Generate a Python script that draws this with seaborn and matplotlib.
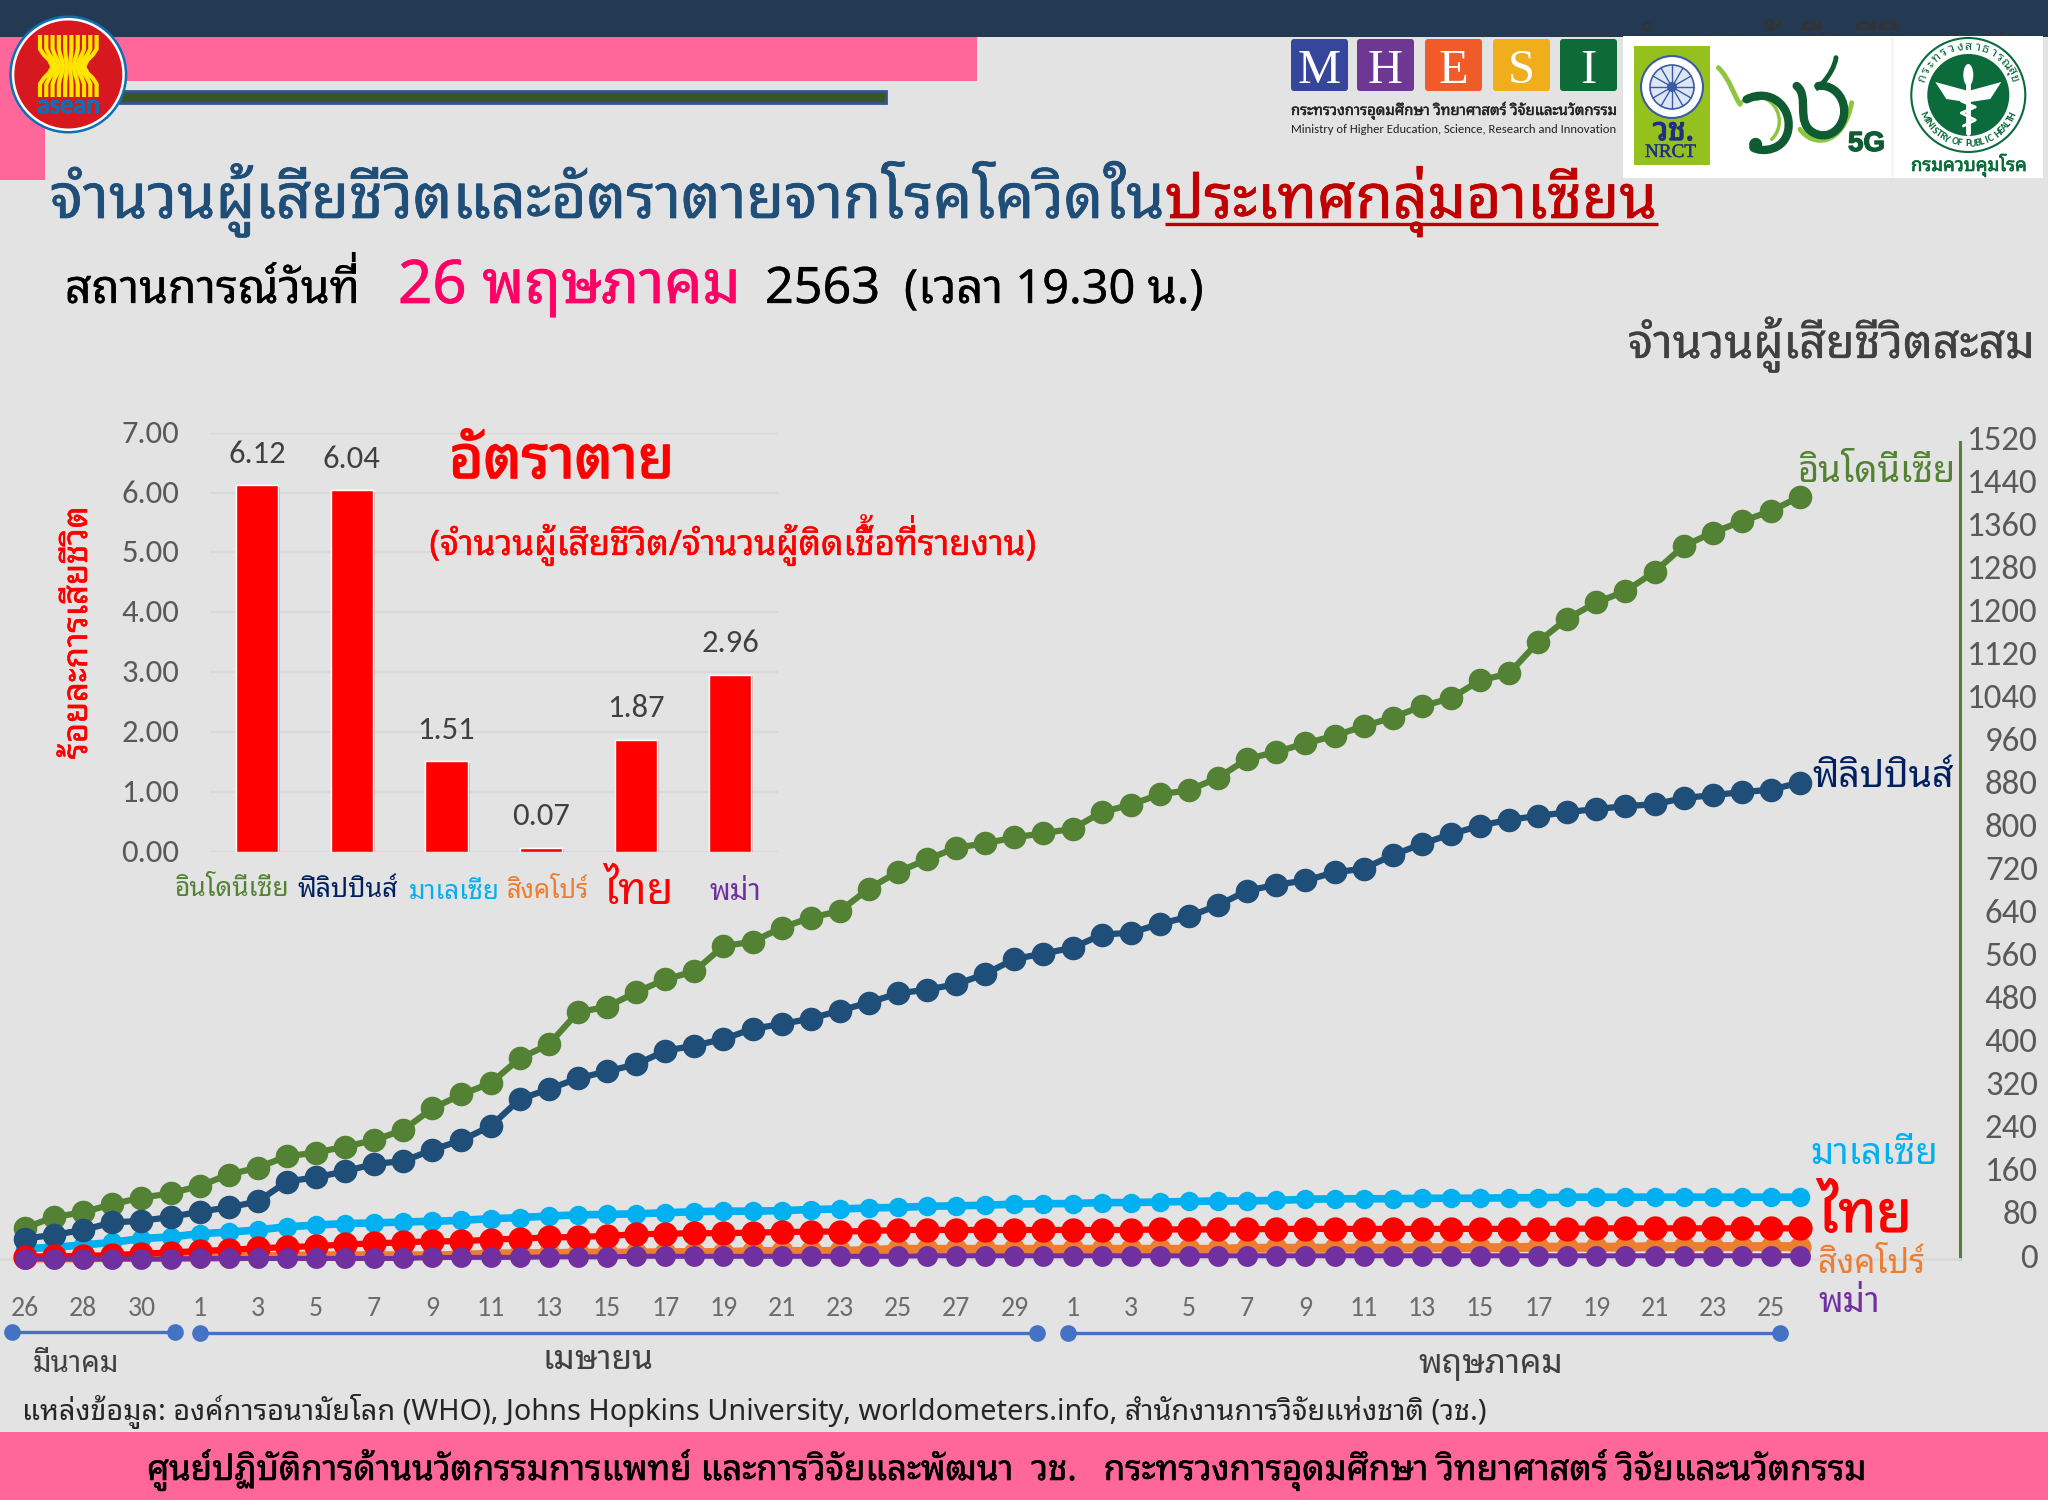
import matplotlib
matplotlib.use('Agg')
import matplotlib.pyplot as plt
import matplotlib.patheffects as pe
from matplotlib.patches import Rectangle, Circle, PathPatch, FancyBboxPatch, Polygon, Ellipse
from matplotlib.path import Path
from matplotlib.transforms import ScaledTranslation
import numpy as np
import seaborn as sns

# ---------------- data ----------------
day_labels = ['26','','28','','30','',
              '1','','3','','5','','7','','9','','11','','13','','15','','17','','19','','21','','23','','25','','27','','29','',
              '1','','3','','5','','7','','9','','11','','13','','15','','17','','19','','21','','23','','25','']
indonesia = [58,78,87,102,114,122,136,157,170,191,198,209,221,240,280,306,327,373,399,459,469,496,520,535,582,590,616,635,647,689,720,
             743,765,773,784,792,800,831,845,864,872,895,930,943,959,973,991,1007,1028,1043,1076,1089,1148,1191,1221,1242,1278,1326,1351,1372,1391,1418]
philippines = [38,45,54,68,71,78,88,96,107,144,152,163,177,182,203,221,247,297,316,336,349,362,387,397,409,428,437,447,462,477,494,
               501,511,530,558,568,579,603,607,623,637,658,685,696,704,719,726,751,772,790,806,817,824,831,837,842,846,857,863,868,873,886]
malaysia = [19,22,26,31,38,41,47,50,54,60,63,66,67,69,70,72,75,77,80,82,83,84,86,88,89,89,90,92,93,95,96,
            98,99,100,102,103,103,105,105,106,107,108,108,109,111,112,112,112,113,113,113,114,114,115,115,115,115,115,115,115,115,115]
thailand = [4,5,6,7,10,12,15,17,20,22,24,27,29,31,33,33,36,38,40,41,43,46,47,48,48,49,50,51,51,52,54,
            54,54,54,54,54,54,54,54,55,55,55,55,56,56,56,56,56,56,56,56,56,56,56,57,57,57,57,57,57,57,57]
singapore = [2,2,2,3,3,3,3,4,5,5,6,6,6,6,6,7,9,10,10,11,11,11,12,12,12,14,14,14,14,16,18,
             18,18,18,18,18,18,18,18,18,18,18,20,20,20,20,20,20,21,21,21,21,22,22,22,22,23,23,23,23,23,23]
myanmar = [0,0,0,0,0,0,1,1,1,1,1,1,1,1,3,3,3,3,4,4,4,5,5,5,5,5,5,5,5,5,5,
           6,6,6,6,6,6,6,6,6,6,6,6,6,6,6,6,6,6,6,6,6,6,6,6,6,6,6,6,6,6,6]
right_ticks = list(range(0, 1521, 80))

countries = ['อินโดนีเซีย','ฟิลิปปินส์','มาเลเซีย','สิงคโปร์','ไทย','พม่า']
death_rates = [6.12,6.04,1.51,0.07,1.87,2.96]
rate_ticks = [0,1,2,3,4,5,6,7]

C_GREEN='#548235'; C_BLUE='#1F4E79'; C_NAVY='#002060'; C_CYAN='#00B0F0'; C_RED='#FF0000'
C_ORANGE='#ED7D31'; C_PURPLE='#7030A0'; C_PINK='#FF6699'; BG='#E3E3E3'; C_TICK='#595959'

sns.set_theme(style='white', rc={'axes.facecolor':'none','figure.facecolor':BG})
FONT = ['Carlito','Noto Sans Thai Looped','DejaVu Sans']
THAI = ['Noto Sans Thai Looped','Carlito','DejaVu Sans']
plt.rcParams['font.family'] = FONT
plt.rcParams['axes.unicode_minus'] = False

W,H = 2048,1500
fig = plt.figure(figsize=(W/100,H/100),dpi=100,facecolor=BG)
def rect_px(x0,y0,x1,y1):
    return [x0/W, 1-y1/H, (x1-x0)/W, (y1-y0)/H]

bg = fig.add_axes([0,0,1,1],zorder=0); bg.set_xlim(0,W); bg.set_ylim(H,0); bg.axis('off')
fg = fig.add_axes([0,0,1,1],zorder=20); fg.set_xlim(0,W); fg.set_ylim(H,0); fg.axis('off'); fg.patch.set_alpha(0)
renderer = fig.canvas.get_renderer()

def put(ax,s,x0,x1,base,color,bold=0,family=THAI,**kw):
    t = ax.text(x0,base,s,color=color,fontsize=20,family=family,ha='left',va='baseline',**kw)
    w = t.get_window_extent(renderer).width
    t.set_fontsize(20*(x1-x0)/w)
    if bold:
        t.set_path_effects([pe.withStroke(linewidth=bold,foreground=color)])
    return t

def width_of(s,fs):
    m = fg.text(0,0,s,fontsize=fs,family=THAI)
    w = m.get_window_extent(renderer).width
    m.remove()
    return w

def raise_mark(t,prefix,mark,lift=0.27):
    """matplotlib has no Thai shaping: lift a tone mark that sits on an upper vowel."""
    fs = t.get_fontsize()
    x0,base = t.get_position()
    space = width_of('ก ก',fs)-width_of('กก',fs)
    fg.text(x0+width_of(prefix,fs)-space,base-lift*fs*100/72,' '+mark,color=t.get_color(),fontsize=fs,family=THAI,ha='left',va='baseline')

# ---------------- background blocks ----------------
bg.add_patch(Rectangle((0,37),977,44,color=C_PINK,lw=0))
bg.add_patch(Rectangle((0,37),45,143,color=C_PINK,lw=0))
bg.add_patch(Rectangle((0,0),W,37,color='#243A52',lw=0))
put(bg,'จำนวนผู้เสียชีวิตสะสม',1628,2035,61,'#333333',zorder=2)
bg.add_patch(Rectangle((120,90.5),766,12,facecolor='#375623',edgecolor='#2F5597',lw=2))
bg.add_patch(Rectangle((0,1432),W,68,color=C_PINK,lw=0))
bg.add_patch(Rectangle((1623,36),420,141.5,color='white',lw=0,zorder=3))
bg.plot([1892,1892],[37,177],color='#EFEFEF',lw=1,zorder=4)

# ---------------- main line chart ----------------
x_per = 29.1
ax = fig.add_axes(rect_px(0,441.7,1960,1259),zorder=5)
ax.patch.set_alpha(0)
days = np.arange(len(indonesia))
styles = [(malaysia,C_CYAN,14,5.5),(indonesia,C_GREEN,17,4.5),(philippines,C_BLUE,17,4.5),
          (singapore,C_ORANGE,16,6.5),(thailand,C_RED,17.5,4.5),(myanmar,C_PURPLE,15,3.6)]
for vals,c,ms,lw in styles:
    sns.lineplot(x=days,y=vals,color=c,marker='o',markersize=ms,linewidth=lw,markeredgewidth=0,ax=ax,errorbar=None)
for ln in ax.lines:
    ln.set_clip_on(False)
    ln.set_zorder(3)
ax.set_xlim(-25/x_per,(1960-25)/x_per)
ax.set_ylim(0,1520)
ax.yaxis.tick_right()
ax.set_yticks(right_ticks)
ax.set_yticklabels([str(v) for v in right_ticks],ha='right',fontsize=25,color=C_TICK)
ax.tick_params(axis='y',length=0,pad=56)
up = ScaledTranslation(0,0.035,fig.dpi_scale_trans)
for lab in ax.get_yticklabels():
    lab.set_transform(lab.get_transform()+up)
ax.set_xticks(days[::2])
ax.set_xticklabels(day_labels[::2],fontsize=20,color='#6b6b6b')
ax.tick_params(axis='x',length=0,pad=27)
for s in ['top','left']:
    ax.spines[s].set_visible(False)
ax.spines['right'].set_color(C_GREEN); ax.spines['right'].set_linewidth(2.2)
ax.spines['bottom'].set_color('#D9D9D9'); ax.spines['bottom'].set_linewidth(2)

# ---------------- inset bar chart ----------------
ax2 = fig.add_axes(rect_px(210,432.7,777.5,851.7),zorder=6)
ax2.patch.set_alpha(0)
sns.barplot(x=countries,y=death_rates,color=C_RED,saturation=1,width=0.445,ax=ax2,zorder=3)
ax2.set_xlim(-0.5,5.5); ax2.set_ylim(0,7)
ax2.set_yticks(rate_ticks)
ax2.set_yticklabels([f'{v:.2f}' for v in rate_ticks],fontsize=23.5,color=C_TICK)
ax2.tick_params(axis='y',length=0,pad=22)
up2 = ScaledTranslation(0,0.015,fig.dpi_scale_trans)
for lab in ax2.get_yticklabels():
    lab.set_transform(lab.get_transform()+up2)
ax2.set_xticks(range(6)); ax2.set_xticklabels(['']*6); ax2.tick_params(axis='x',length=0)
ax2.grid(axis='y',color='#D9D9D9',lw=1.6); ax2.set_axisbelow(True)
ax2.set_xlabel(''); ax2.set_ylabel('')
for s in ax2.spines.values(): s.set_visible(False)
for b in ax2.patches:
    b.set_path_effects([pe.withSimplePatchShadow(offset=(1.5,-1),shadow_rgbFace='#555555',alpha=.45),pe.Normal()])
ax2.bar_label(ax2.containers[0],fmt='%.2f',padding=12.5,fontsize=23.5,color='#404040')

# ---------------- inset texts ----------------
cat_pos = [(174,289,896,C_GREEN),(298,399,897,C_NAVY),(409,500,899,C_CYAN),(507,589.5,898,C_ORANGE),(603.5,674,904,C_RED),(709,761,900,C_PURPLE)]
for name,(a,b,base,c) in zip(countries,cat_pos):
    put(fg,name,a,b,base,c)
put(fg,'อัตราตาย',449,674,478,C_RED,bold=1.2)
t_sub = put(fg,'(จำนวนผู้เสียชีวิต/จำนวนผู้ติดเชื้อที่รายงาน)',429.5,1036,555,C_RED,bold=0.3)
raise_mark(t_sub,'(จำนวนผู้เสียชีวิต/จำนวนผู้ติดเช','้')
raise_mark(t_sub,'(จำนวนผู้เสียชีวิต/จำนวนผู้ติดเชื้อท','่')
t = fg.text(78,633,'ร้อยละการเสียชีวิต',color=C_RED,fontsize=20,family=THAI,ha='center',va='center')
w = t.get_window_extent(renderer).width
t.set_fontsize(20*253/w); t.set_rotation(90); t.set_path_effects([pe.withStroke(linewidth=.4,foreground=C_RED)])

# ---------------- series labels ----------------
put(fg,'อินโดนีเซีย',1798,1957,482,C_GREEN)
put(fg,'ฟิลิปปินส์',1812,1954,787,C_NAVY)
put(fg,'มาเลเซีย',1810,1938,1164,C_CYAN)
put(fg,'ไทย',1818,1912,1232,C_RED,bold=0.8)
put(fg,'สิงคโปร์',1818,1925,1273,C_ORANGE)
put(fg,'พม่า',1818,1880,1312,C_PURPLE)

# ---------------- months ----------------
for x0,x1,y in [(12,174.5,1331.7),(200,1037,1332.7),(1068,1780,1333)]:
    fg.plot([x0,x1],[y,y],color='#4472C4',lw=2.4,marker='o',ms=12,mew=0,solid_capstyle='butt')
put(fg,'มีนาคม',33,120,1372,'#404040')
put(fg,'เมษายน',542,653,1369,'#404040')
put(fg,'พฤษภาคม',1418,1563,1373,'#404040')

# ---------------- titles ----------------
put(fg,'จำนวนผู้เสียชีวิตและอัตราตายจากโรคโควิดใน',50,1164,218,'#1F4E79',bold=0.5)
put(fg,'ประเทศกลุ่มอาเซียน',1165,1658,218,'#C00000',bold=0.5)
fg.plot([1165,1658],[223.5,223.5],color='#C00000',lw=2.4,solid_capstyle='butt')
t_when = put(fg,'สถานการณ์วันที่',65,360,303,'black',bold=0.2)
raise_mark(t_when,'สถานการณ์วันท','่')
put(fg,'26 พฤษภาคม',398,741,303,'#FF0066',bold=0.5)
put(fg,'2563',765,880,303,'black',bold=0.2)
put(fg,'(เวลา 19.30 น.)',904,1204,303,'black',bold=0.2)
put(fg,'จำนวนผู้เสียชีวิตสะสม',1628,2035,358,'#404040',bold=0.2)
put(fg,'แหล่งข้อมูล: องค์การอนามัยโลก (WHO), Johns Hopkins University, worldometers.info, สำนักงานการวิจัยแห่งชาติ (วช.)',21.6,1485,1420,'#262626')
put(fg,'ศูนย์ปฏิบัติการด้านนวัตกรรมการแพทย์ และการวิจัยและพัฒนา  วช.   กระทรวงการอุดมศึกษา วิทยาศาสตร์ วิจัยและนวัตกรรม',147,1867,1480,'black',bold=0.4)

# ---------------- ASEAN logo ----------------
cx,cy = 68.3,74.5
for r,c in [(59,'#0F6FB5'),(56.5,'white'),(54,'#D7191F')]:
    fg.add_patch(Circle((cx,cy),r,color=c,lw=0))
stalk_y = np.array([35,49,55,60,66.7,73,78,84,97])
stalk_f = np.array([1,1,.86,.68,.56,.68,.86,1,1])
for off in [3.15,9.45,15.75,22,28.3]:
    for sgn in (-1,1):
        fg.plot(cx+sgn*off*stalk_f,stalk_y,color='#FFE600',lw=3.0,solid_capstyle='butt')
put(fg,'asean',37,100,113,'#0F6FB5',bold=1.0,family=['Carlito'])

# ---------------- MHESI logo ----------------
tiles = [('M',1291,'#36479B'),('H',1357,'#6F3794'),('E',1425,'#F15B2A'),('S',1493,'#F0AE1D'),('I',1560,'#0E6B37')]
for ch,x,c in tiles:
    fg.add_patch(FancyBboxPatch((x+3,42),51,46,boxstyle='round,pad=3',color=c,lw=0))
    fg.text(x+28.5,83,ch,color='white',fontsize=35,family='Liberation Serif',ha='center',va='baseline')
put(fg,'กระทรวงการอุดมศึกษา วิทยาศาสตร์ วิจัยและนวัตกรรม',1291,1617,115,'#222222',bold=0.3)
put(fg,'Ministry of Higher Education, Science, Research and Innovation',1291,1617,133,'#222222',family=FONT)

# ---------------- NRCT logo ----------------
fg.add_patch(Rectangle((1634,46),76,119,color='#95C11F',lw=0))
fg.add_patch(Circle((1672,87),31,facecolor='white',edgecolor='#3B5BA5',lw=1.5))
fg.add_patch(Circle((1672,87),22,facecolor='#DCE6F5',edgecolor='#3B5BA5',lw=1.2))
for a in np.arange(0,np.pi,np.pi/6):
    fg.plot([1672-22*np.cos(a),1672+22*np.cos(a)],[87-22*np.sin(a),87+22*np.sin(a)],color='#3B5BA5',lw=1)
fg.add_patch(Circle((1672,87),5,color='#3B5BA5',lw=0))
put(fg,'วช.',1653,1694,140,'#1F3080',bold=1)
put(fg,'NRCT',1645,1696,157,'#1F3080',family=['Liberation Serif'],bold=.3)

# ---------------- 60 years / 5G logo ----------------
def zx(p):
    return [(1700+a/3,36+b/3) for a,b in p]
def stroke(pts,color,lw):
    codes=[Path.MOVETO]+[Path.CURVE4]*(len(pts)-1)
    fg.add_patch(PathPatch(Path(zx(pts),codes),fill=False,edgecolor=color,lw=lw,capstyle='round'))
LG='#8DC63F'; DG='#0F5B32'
stroke([(55,95),(90,130),(100,175),(120,205)],LG,3.5)
stroke([(120,205),(135,180),(165,190),(175,190)],LG,2.5)
stroke([(190,185),(240,205),(255,270),(215,310)],LG,2.5)
stroke([(300,280),(340,335),(430,330),(455,200)],LG,3.5)
stroke([(140,190),(210,155),(275,210),(265,280),(255,345),(185,350),(160,335)],DG,6)
fg.add_patch(Circle(zx([(167,325)])[0],6.5,color=DG,lw=0))
stroke([(290,150),(330,180),(285,260),(340,290),(395,320),(445,260),(430,205),(420,165),(385,145),(355,150)],DG,6)
stroke([(355,150),(340,170),(400,120),(408,65)],DG,3.5)
put(fg,'5G',1848,1885,151,DG,bold=1,family=['Liberation Sans'],weight='bold')

# ---------------- MoPH logo ----------------
mx,my = 1968.3,95
GRN='#0B6B3A'
fg.add_patch(Circle((mx,my),57,facecolor='white',edgecolor=GRN,lw=1.5))
fg.add_patch(Circle((mx,my),41,color=GRN,lw=0))
fg.plot([mx,mx],[my-14,my+38],color='white',lw=3.5)
fg.add_patch(Ellipse((mx,my-20),10,22,color='white',lw=0))
for sgn in (-1,1):
    fg.add_patch(Polygon([(mx,my-4),(mx+sgn*33,my-13),(mx+sgn*22,my+4),(mx+sgn*2,my+7)],color='white',lw=0))
fg.plot(mx+np.array([-7,7,-7,7,-5]),my+np.array([6,12,18,25,31]),color='white',lw=2)
top_chars = ['ก','ร','ะ','ท','ร','ว','ง','ส','า','ธ','า','ร','ณ','สุ','ข']
bot_chars = list('MINISTRY OF PUBLIC HEALTH')
for ch,th in zip(top_chars,np.linspace(160,20,len(top_chars))):
    a=np.radians(th)
    fg.text(mx+49*np.cos(a),my-49*np.sin(a),ch,color=GRN,fontsize=9,family=THAI,ha='center',va='center',rotation=th-90)
for ch,th in zip(bot_chars,np.linspace(205,335,len(bot_chars))):
    if ch == ' ':
        continue
    a=np.radians(th)
    fg.text(mx+49*np.cos(a),my-49*np.sin(a),ch,color=GRN,fontsize=7.5,family='Carlito',weight='bold',ha='center',va='center',rotation=th-270)
put(fg,'กรมควบคุมโรค',1911,2027,171,GRN,bold=.5)

fig.savefig('out.png',dpi=100,facecolor=BG)
